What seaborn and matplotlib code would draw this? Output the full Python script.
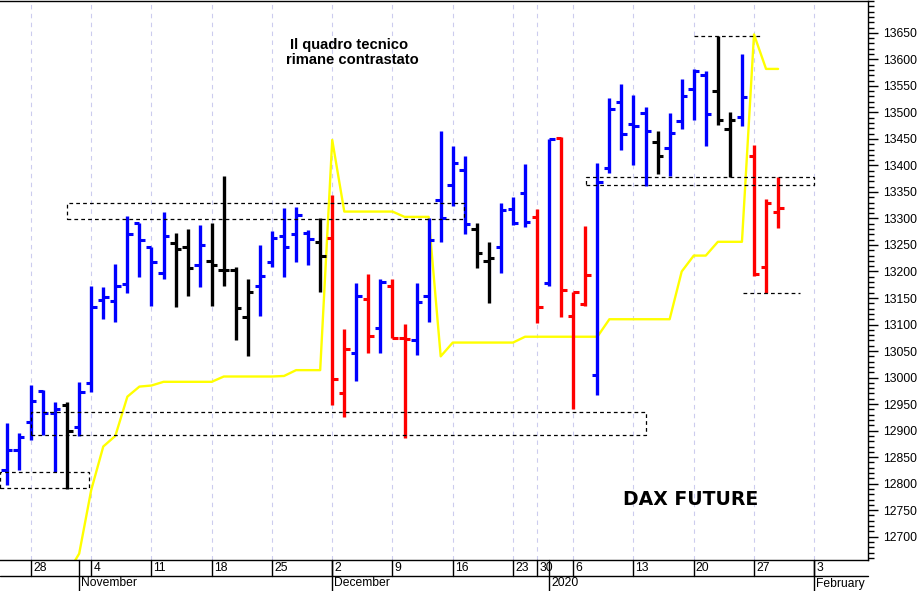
import numpy as np
import pandas as pd
import seaborn as sns
import matplotlib.pyplot as plt
from matplotlib.patches import Rectangle
from matplotlib.ticker import FixedLocator, MultipleLocator

# trading sessions (Eurex calendar), including the empty days to the right of the last bar
sessions = pd.bdate_range("2019-10-24", "2020-02-07")
holidays = pd.to_datetime(["2019-12-24", "2019-12-25", "2019-12-26", "2019-12-31", "2020-01-01"])
sessions = sessions[~sessions.isin(holidays)]

opens = [12826, 12864, 12917, 12974, 12934, 12949, 12907, 12990, 13147, 13145,
         13177, 13292, 13247, 13198, 13254, 13246, 13213, 13220, 13203, 13203,
         13115, 13173, 13217, 13267, 13271, 13273, 13256, 13264, 12971, 13047,
         13148, 13094, 13172, 13075, 13071, 13154, 13334, 13364, 13392, 13281,
         13220, 13247, 13318, 13348, 13303, 13179, 13452, 13116, 13139, 13005,
         13396, 13519, 13478, 13498, 13445, 13433, 13483, 13544, 13571, 13541,
         13468, 13492, 13417, 13208, 13313]
highs = [12915, 12896, 12986, 12976, 12953, 12953, 12992, 13173, 13171, 13215,
         13304, 13292, 13247, 13313, 13273, 13281, 13287, 13292, 13381, 13209,
         13186, 13250, 13277, 13320, 13321, 13279, 13300, 13345, 13092, 13179,
         13196, 13185, 13186, 13101, 13179, 13300, 13464, 13437, 13418, 13292,
         13256, 13330, 13341, 13403, 13318, 13449, 13454, 13162, 13285, 13405,
         13527, 13554, 13532, 13510, 13464, 13499, 13563, 13582, 13578, 13645,
         13500, 13610, 13439, 13337, 13379]
lows = [12797, 12826, 12883, 12892, 12822, 12790, 12890, 12973, 13111, 13105,
        13160, 13190, 13135, 13185, 13134, 13154, 13171, 13135, 13172, 13070,
        13041, 13116, 13209, 13190, 13217, 13213, 13162, 12949, 12926, 12993,
        13047, 13047, 13075, 12886, 13043, 13105, 13256, 13324, 13271, 13207,
        13141, 13198, 13287, 13284, 13103, 13173, 13115, 12941, 13135, 12968,
        13386, 13430, 13401, 13361, 13384, 13381, 13469, 13485, 13436, 13477,
        13378, 13475, 13191, 13159, 13282]
closes = [12864, 12888, 12956, 12934, 12941, 12900, 12973, 13134, 13152, 13172,
          13270, 13260, 13217, 13267, 13243, 13207, 13250, 13213, 13203, 13132,
          13162, 13192, 13264, 13246, 13307, 13262, 13230, 12998, 13054, 13154,
          13079, 13181, 13075, 13073, 13143, 13260, 13300, 13405, 13290, 13234,
          13226, 13316, 13292, 13294, 13134, 13449, 13166, 13162, 13194, 13368,
          13507, 13460, 13475, 13464, 13417, 13462, 13530, 13579, 13497, 13486,
          13486, 13529, 13195, 13329, 13320]
bar_colors = (["blue"] * 5 + ["black"] + ["blue"] * 8 + ["black"] * 2 + ["blue"]
              + ["black"] * 4 + ["blue"] * 5 + ["black"] + ["red"] * 2 + ["blue"]
              + ["red", "blue", "red", "red"] + ["blue"] * 5 + ["black"] * 2
              + ["blue"] * 3 + ["red", "blue", "red", "red", "red", "blue"]
              + ["blue"] * 4 + ["black"] + ["blue"] * 4 + ["black"] * 2 + ["blue"]
              + ["red"] * 3)
# yellow indicator line
stop_line = [np.nan] * 5 + [12630, 12668, 12788, 12870, 12890,
             12964, 12983, 12985, 12992, 12992, 12992, 12992, 12992, 13002, 13002,
             13002, 13002, 13002, 13003, 13014, 13014, 13014, 13448, 13313, 13313,
             13313, 13313, 13313, 13303, 13303, 13303, 13040, 13066, 13066, 13066,
             13066, 13066, 13066, 13077, 13077, 13077, 13077, 13077, 13077, 13077,
             13110, 13110, 13110, 13110, 13110, 13110, 13200, 13230, 13230, 13256,
             13256, 13256, 13647, 13582, 13582]

# dashed zones: (first bar, last bar, low, high)
zones = [(-0.6, 6.85, 12792, 12822),
         (2.0, 53.0, 12892, 12936),
         (5.0, 37.9, 13299, 13329),
         (48.05, 67.0, 13364, 13379)]
# dashed single levels: (first bar, last bar, level)
levels = [(57.0, 62.7, 13645), (61.1, 65.8, 13159)]

df = pd.DataFrame({"date": sessions[:len(opens)], "open": opens, "high": highs,
                   "low": lows, "close": closes, "color": bar_colors, "stop": stop_line})
df["x"] = np.arange(len(df))

sns.set_style("white")
plt.rcParams["font.family"] = ["Liberation Sans", "DejaVu Sans"]
plt.rcParams["text.color"] = "black"

W, H = 918, 591
fig = plt.figure(figsize=(W / 100, H / 100), dpi=100)
ax = fig.add_axes([0, 31 / H, 868 / W, 559.5 / H])

palette = {"blue": "#0000ff", "black": "#000000", "red": "#ff0000"}
tick = 0.45
for name, g in df.groupby("color"):
    c = palette[name]
    ax.vlines(g["x"], g["low"], g["high"], color=c, lw=2.4, zorder=3)
    ax.hlines(g["open"], g["x"] - tick, g["x"], color=c, lw=2.2, zorder=3)
    ax.hlines(g["close"], g["x"], g["x"] + tick, color=c, lw=2.2, zorder=3)

sns.lineplot(data=df, x="x", y="stop", color="#ffff00", lw=1.7, ax=ax, legend=False, zorder=2)

for x0, x1, lo, hi in zones:
    ax.add_patch(Rectangle((x0, lo), x1 - x0, hi - lo, fill=False, ec="black",
                           lw=0.9, ls=(0, (3, 2.5)), zorder=4))
for x0, x1, lv in levels:
    ax.hlines(lv, x0, x1, color="black", lw=0.9, ls=(0, (3, 2.5)), zorder=4)

ax.set_xlim(-0.57, 71.46)
ax.set_ylim(12656, 13711)
ax.set_xlabel("")
ax.set_ylabel("")

# right price scale
ax.yaxis.tick_right()
ax.yaxis.set_major_locator(FixedLocator(list(range(12700, 13651, 50))))
ax.yaxis.set_minor_locator(MultipleLocator(10))
ax.tick_params(axis="y", which="major", length=7, width=1, labelsize=8.7, pad=4,
               colors="black", labelcolor="black")
ax.tick_params(axis="y", which="minor", length=4, width=1, right=True, colors="black")
ax.set_xticks([])
for side in ["top", "right", "bottom"]:
    ax.spines[side].set_color("black")
    ax.spines[side].set_linewidth(1)
ax.spines["left"].set_visible(False)

# two-row date axis
dts = pd.Series(sessions)
idx = np.arange(len(dts))
week = dts.dt.isocalendar().week.to_numpy()
week_start = [i for i in idx[1:] if week[i] != week[i - 1]]
month_start = [i for i in idx[1:] if dts[i].month != dts[i - 1].month]

trans = ax.get_xaxis_transform()
r1 = -16 / 559.5
r2 = -31 / 559.5
ax.plot([0, 1], [r1, r1], transform=ax.transAxes, color="black", lw=1, clip_on=False)
for i in week_start:
    ax.axvline(i, color="#ccccee", lw=0.8, ls=(0, (4, 4)), zorder=0)
    ax.plot([i, i], [0, r1], transform=trans, color="black", lw=1, clip_on=False)
    ax.text(i + 0.17, r1 / 2, str(dts[i].day), transform=trans, ha="left", va="center",
            fontsize=8.7, color="black")
for i in month_start:
    ax.plot([i, i], [0, r2], transform=trans, color="black", lw=1, clip_on=False)
    label = str(dts[i].year) if dts[i].month == 1 else dts[i].strftime("%B")
    ax.text(i + 0.17, (r1 + r2) / 2, label, transform=trans, ha="left", va="center",
            fontsize=8.7, color="black")

note_font = ["Liberation Sans Narrow", "Liberation Sans", "DejaVu Sans"]
ax.text(349 / 868, 1 - 44 / 559.5, "Il quadro tecnico", transform=ax.transAxes,
        ha="center", va="center", fontsize=10.6, fontweight="bold", color="black",
        family=note_font)
ax.text(352 / 868, 1 - 59 / 559.5, "rimane contrastato", transform=ax.transAxes,
        ha="center", va="center", fontsize=10.6, fontweight="bold", color="black",
        family=note_font)
ax.text(691 / 868, 1 - 499 / 559.5, "DAX FUTURE", transform=ax.transAxes,
        ha="center", va="center", fontsize=13.6, fontweight="bold", color="black",
        family=["DejaVu Sans"])

fig.savefig("out.png", dpi=100)
